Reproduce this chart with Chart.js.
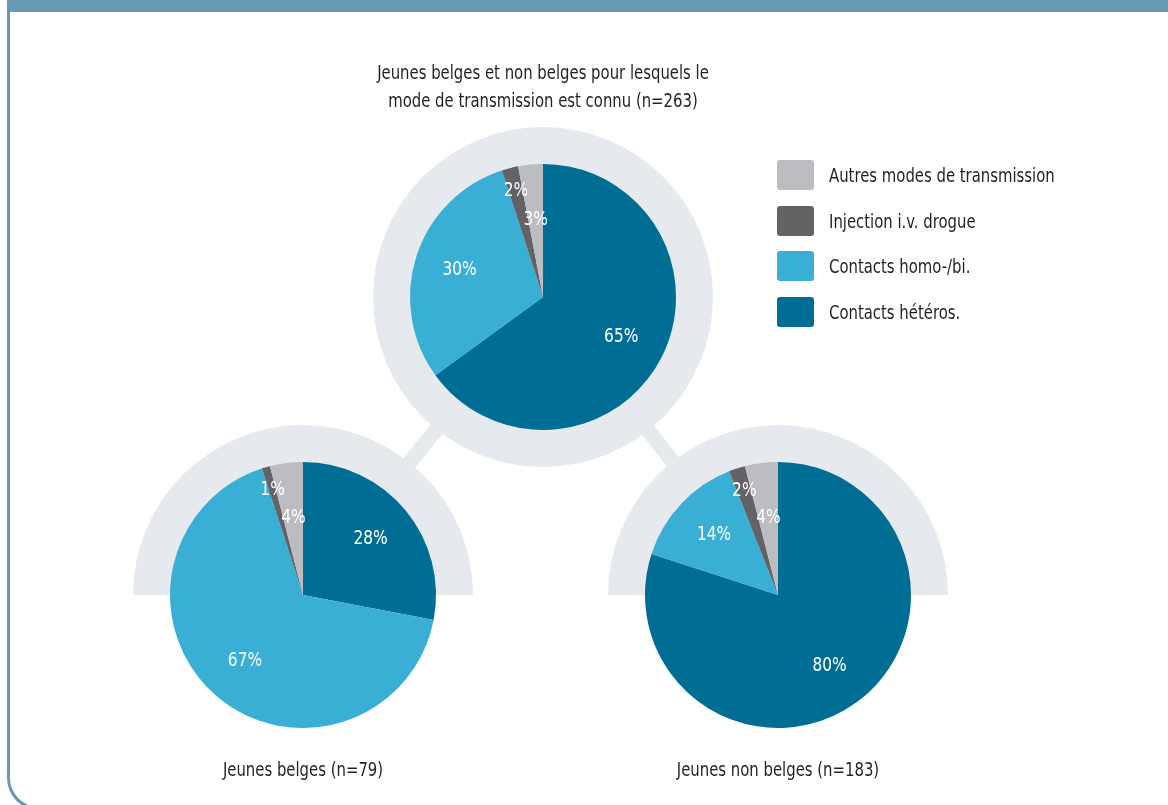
<!DOCTYPE html>
<html>
<head>
<meta charset="utf-8">
<script src="https://cdn.jsdelivr.net/npm/chart.js@4"></script>
<style>
  body { margin: 0; width: 1168px; height: 805px; overflow: hidden; background: #fff;
         font-family: "Liberation Sans Narrow", "DejaVu Sans Condensed", sans-serif; color: #231f20; }
  #frame { position: absolute; left: 7px; top: 0; width: 1185px; height: 795px;
           border: 3px solid #6599b1; border-top: 12px solid #6599b1; border-radius: 0 0 32px 32px; }
  #bg { position: absolute; left: 0; top: 0; }
  .pie { position: absolute; }
  .txt { position: absolute; font-size: 19px; text-align: center; white-space: nowrap;
         transform: scaleX(0.87); transform-origin: center; }
  #legend { position: absolute; left: 777px; top: 160px; }
  .lg { display: flex; align-items: center; height: 30px; margin-bottom: 15.5px; font-size: 19px; }
  .lg span.box { width: 37px; height: 30px; border-radius: 3px; margin-right: 15px; display: inline-block; flex: none; }
  .lg span.t { display: inline-block; white-space: nowrap; transform: scaleX(0.87); transform-origin: left; }
</style>
</head>
<body>
<div id="frame"></div>
<canvas id="bg" width="1168" height="805"></canvas>
<canvas id="pieAll" class="pie" width="300" height="300" style="left:393px;top:147px"></canvas>
<canvas id="pieBe" class="pie" width="300" height="300" style="left:153px;top:445px"></canvas>
<canvas id="pieNonBe" class="pie" width="300" height="300" style="left:628px;top:445px"></canvas>
<div class="txt" style="left:343px;top:58px;width:400px;line-height:28px">Jeunes belges et non belges pour lesquels le<br>mode de transmission est connu (n=263)</div>
<div class="txt" style="left:153px;top:758px;width:300px">Jeunes belges (n=79)</div>
<div class="txt" style="left:628px;top:758px;width:300px">Jeunes non belges (n=183)</div>
<div id="legend"></div>
<script>
// modes de transmission (ordre des parts, sens horaire depuis midi)
const modes = ['Contacts hétéros.', 'Contacts homo-/bi.', 'Injection i.v. drogue', 'Autres modes de transmission'];
const modeColors = ['#006e94', '#3aafd6', '#636366', '#bcbdc1'];
// pourcentages
const valuesAll = [65, 30, 2, 3];      // n=263
const valuesBelges = [28, 67, 1, 4];   // n=79
const valuesNonBelges = [80, 14, 2, 4]; // n=183

const haloColor = '#e6eaee';
const R = 133;

// legende (ordre inverse)
const lg = document.getElementById('legend');
for (let i = modes.length - 1; i >= 0; i--) {
  const row = document.createElement('div');
  row.className = 'lg';
  row.innerHTML = '<span class="box" style="background:' + modeColors[i] + '"></span><span class="t">' + modes[i] + '</span>';
  lg.appendChild(row);
}

// fond : halos gris + liaisons
const bg = document.getElementById('bg').getContext('2d');
const cTop = [543, 297], cL = [303, 595], cR = [778, 595];
bg.strokeStyle = haloColor;
bg.lineWidth = 15;
bg.beginPath();
bg.moveTo(cL[0], cL[1]); bg.lineTo(cTop[0], cTop[1]);
bg.moveTo(cR[0], cR[1]); bg.lineTo(cTop[0], cTop[1]);
bg.stroke();
bg.fillStyle = haloColor;
bg.beginPath(); bg.arc(cTop[0], cTop[1], 170, 0, Math.PI * 2); bg.fill();
bg.beginPath(); bg.arc(cL[0], cL[1], 170, Math.PI, Math.PI * 2); bg.closePath(); bg.fill();
bg.beginPath(); bg.arc(cR[0], cR[1], 170, Math.PI, Math.PI * 2); bg.closePath(); bg.fill();

// etiquettes blanches dans les parts
const pctLabels = {
  id: 'pctLabels',
  afterDatasetsDraw(chart) {
    const ctx = chart.ctx;
    const meta = chart.getDatasetMeta(0);
    const vals = chart.data.datasets[0].data;
    ctx.save();
    ctx.fillStyle = '#ffffff';
    ctx.font = '19px "Liberation Sans Narrow", "DejaVu Sans Condensed", sans-serif';
    ctx.textAlign = 'center';
    ctx.textBaseline = 'middle';
    meta.data.forEach((arc, i) => {
      const p = arc.getProps(['x', 'y', 'startAngle', 'endAngle', 'outerRadius'], true);
      const mid = (p.startAngle + p.endAngle) / 2;
      let f = 0.66;
      if (vals[i] < 5) f = (i % 2 === 0) ? 0.82 : 0.58;
      const d = p.outerRadius * f;
      ctx.save();
      ctx.translate(p.x + Math.cos(mid) * d, p.y + Math.sin(mid) * d);
      ctx.scale(0.9, 1);
      ctx.fillText(vals[i] + '%', 0, 0);
      ctx.restore();
    });
    ctx.restore();
  }
};

function makePie(id, values) {
  return new Chart(document.getElementById(id), {
    type: 'pie',
    data: {
      labels: modes,
      datasets: [{ data: values, backgroundColor: modeColors, borderWidth: 0 }]
    },
    options: {
      responsive: false,
      animation: false,
      radius: R,
      layout: { padding: 0 },
      plugins: { legend: { display: false }, tooltip: { enabled: false } }
    },
    plugins: [pctLabels]
  });
}
makePie('pieAll', valuesAll);
makePie('pieBe', valuesBelges);
makePie('pieNonBe', valuesNonBelges);
</script>
</body>
</html>
